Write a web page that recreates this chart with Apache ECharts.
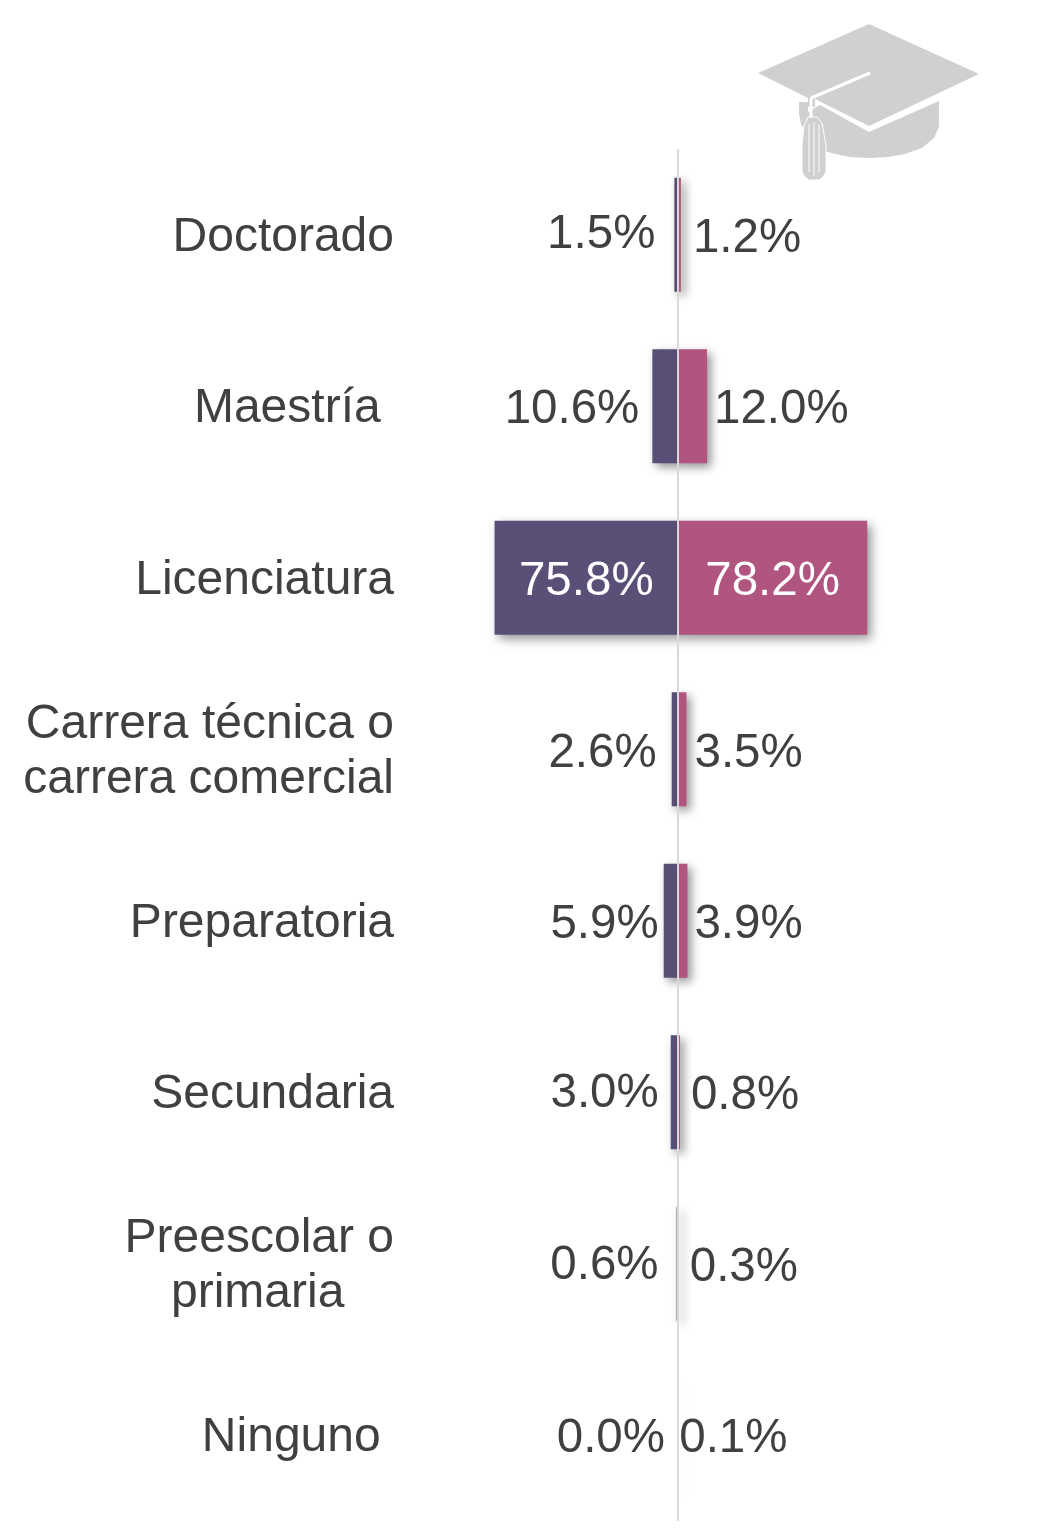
<!DOCTYPE html>
<html>
<head>
<meta charset="utf-8">
<style>html,body{margin:0;padding:0;background:#fff}#c{width:1061px;height:1533px}</style>
<script src="https://cdn.jsdelivr.net/npm/echarts@6/dist/echarts.min.js"></script>
</head>
<body>
<div id="c"></div>
<script>
const categories = ["Doctorado","Maestría ","Licenciatura","Carrera técnica o\ncarrera comercial","Preparatoria","Secundaria","Preescolar o\nprimaria   \u2009","Ninguno "];
const leftValues = [1.5,10.6,75.8,2.6,5.9,3.0,0.6,0.0];
const rightValues = [1.2,12.0,78.2,3.5,3.9,0.8,0.3,0.1];
// label nudges in px, kept apart from the values
const leftNudge = [[-19,0],[-13,4],[0,4],[-15,5],[-5,4],[-12,2],[-18,2],[-13,4]];
const rightNudge = [[12,4],[7,4],[0,4],[8,5],[7,4],[11,4],[11,4],[1,4]];
const insideCategory = "Licenciatura";

const TEXT = '#404040', PURPLE = '#5a5077', ROSE = '#b05580', HAT = '#d0d0d0';
const shadow = {shadowColor:'rgba(0,0,0,0.42)',shadowBlur:10,shadowOffsetX:4,shadowOffsetY:4};
const FAMILY = '"Liberation Sans", Arial, sans-serif';
const font = {fontFamily:FAMILY,fontSize:47.5,color:TEXT};

function buildData(vals, nudge, sign, pos){
  return vals.map((v,i)=>{
    const inside = categories[i]===insideCategory;
    return {
      value: sign*v,
      label:{
        show:true,
        position: inside ? 'inside' : pos,
        distance:0,
        offset:nudge[i],
        color: inside ? '#ffffff' : TEXT
      }
    };
  });
}
const fmt = p => Math.abs(p.value).toFixed(1)+'%';
const chart = echarts.init(document.getElementById('c'),null,{renderer:'canvas'});
chart.setOption({
  animation:false,
  backgroundColor:'#fff',
  grid:{left:436,top:149,width:484,height:1372,containLabel:false},
  xAxis:{type:'value',min:-100,max:100,show:false},
  yAxis:{type:'category',inverse:true,data:categories,
    axisLine:{show:false},axisTick:{show:false},splitLine:{show:false},
    axisLabel:{margin:42,align:'right',
      formatter:v=>v.split('\n').map(l=>'{a|'+l+'}').join('\n'),
      rich:{a:{fontFamily:FAMILY,fontSize:48,color:TEXT,align:'right',lineHeight:55,padding:[6,0,0,0]}}}},
  series:[
    {name:'Izquierda',type:'bar',stack:'t',barWidth:114,
      itemStyle:Object.assign({color:PURPLE},shadow),
      label:Object.assign({formatter:fmt},font),
      data:buildData(leftValues,leftNudge,-1,'left')},
    {name:'Derecha',type:'bar',stack:'t',barWidth:114,
      itemStyle:Object.assign({color:ROSE},shadow),
      label:Object.assign({formatter:fmt},font),
      data:buildData(rightValues,rightNudge,1,'right'),
      markLine:{silent:true,symbol:'none',z:20,label:{show:false},
        lineStyle:{color:'#d9d9d9',width:2,type:'solid'},
        data:[{xAxis:0}]}}
  ],
  graphic:[{type:'group',silent:true,children:[
    {type:'polygon',shape:{points:[[820,105],[869,132],[939,101],[939,127],[934,138],[922,148],[905,154],[888,157],[870,158],[850,157],[835,154],[822,150],[820,133],[806,133],[801,124],[799,114],[799,102],[808,102],[808,112]]},style:{fill:HAT}},
    {type:'polygon',shape:{points:[[869,24],[979,74],[869,126],[815,99],[815,107],[808,107],[808,98],[758,73]]},style:{fill:HAT}},
    {type:'polyline',shape:{points:[[811,98],[870,73]]},style:{stroke:'#fff',lineWidth:3.5,fill:null}},
    {type:'polyline',shape:{points:[[811,98],[811,118]]},style:{stroke:'#fff',lineWidth:3,fill:null}},
    {type:'polygon',shape:{points:[[808,117],[817,117],[822,123],[826,145],[826,172],[823,177],[819,180],[809,180],[805,177],[802,172],[802,145],[804,126]]},style:{fill:HAT,stroke:'#fff',lineWidth:1}},
    {type:'polyline',shape:{points:[[809,124],[809,172]]},style:{stroke:'#e6e6e6',lineWidth:2,fill:null}},
    {type:'polyline',shape:{points:[[814,122],[814,176]]},style:{stroke:'#e6e6e6',lineWidth:2,fill:null}},
    {type:'polyline',shape:{points:[[819,124],[819,172]]},style:{stroke:'#e6e6e6',lineWidth:2,fill:null}}
  ]}]
});
</script>
</body>
</html>
